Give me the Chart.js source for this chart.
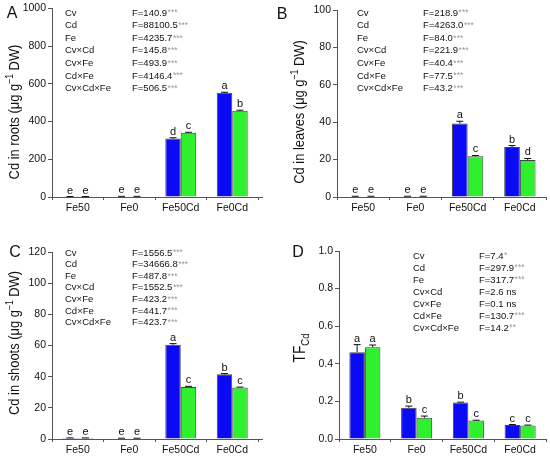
<!DOCTYPE html>
<html>
<head>
<meta charset="utf-8">
<script src="https://cdn.jsdelivr.net/npm/chart.js@4/dist/chart.umd.min.js"></script>
<style>
  body { margin: 0; background: #fff; }
  canvas { position: absolute; }
</style>
</head>
<body>
<canvas id="cA" width="275" height="228" style="left:0;top:0"></canvas>
<canvas id="cB" width="275" height="228" style="left:275px;top:0"></canvas>
<canvas id="cC" width="275" height="229" style="left:0;top:228px"></canvas>
<canvas id="cD" width="275" height="229" style="left:275px;top:228px"></canvas>
<script>
// categories and factors
const treatments = ['Fe50', 'Fe0', 'Fe50Cd', 'Fe0Cd'];
const factors = ['Cv', 'Cd', 'Fe', 'Cv×Cd', 'Cv×Fe', 'Cd×Fe', 'Cv×Cd×Fe'];

// A - roots
const rootsBlue = [1.5, 2.5, 310, 552];
const rootsGreen = [1.5, 2.5, 340, 457];
const rootsBlueErr = [1, 1, 4, 3];
const rootsGreenErr = [1, 1, 3, 3];
const rootsBlueLet = ['e', 'e', 'd', 'a'];
const rootsGreenLet = ['e', 'e', 'c', 'b'];
const rootsF = ['140.9', '88100.5', '4235.7', '145.8', '493.9', '4146.4', '506.5'];
const rootsSig = ['***', '***', '***', '***', '***', '***', '***'];
const rootsTicks = [0, 200, 400, 600, 800, 1000];

// B - leaves
const leavesBlue = [0.3, 0.3, 39.3, 26.7];
const leavesGreen = [0.3, 0.3, 21.8, 19.8];
const leavesBlueErr = [0.1, 0.1, 1.2, 0.8];
const leavesGreenErr = [0.1, 0.1, 0.4, 0.8];
const leavesBlueLet = ['e', 'e', 'a', 'b'];
const leavesGreenLet = ['e', 'e', 'c', 'd'];
const leavesF = ['218.9', '4263.0', '84.0', '221.9', '40.4', '77.5', '43.2'];
const leavesSig = ['***', '***', '***', '***', '***', '***', '***'];
const leavesTicks = [0, 20, 40, 60, 80, 100];

// C - shoots
const shootsBlue = [0.6, 0.4, 60.5, 41.5];
const shootsGreen = [0.6, 0.4, 33.4, 33.0];
const shootsBlueErr = [0.1, 0.1, 0.7, 0.5];
const shootsGreenErr = [0.1, 0.1, 0.4, 0.3];
const shootsBlueLet = ['e', 'e', 'a', 'b'];
const shootsGreenLet = ['e', 'e', 'c', 'c'];
const shootsF = ['1556.5', '34666.8', '487.8', '1552.5', '423.2', '441.7', '423.7'];
const shootsSig = ['***', '***', '***', '***', '***', '***', '***'];
const shootsTicks = [0, 20, 40, 60, 80, 100, 120];

// D - translocation factor
const tfBlue = [0.462, 0.166, 0.194, 0.075];
const tfGreen = [0.488, 0.113, 0.098, 0.072];
const tfBlueErr = [0.04, 0.009, 0.002, 0.002];
const tfGreenErr = [0.012, 0.009, 0.002, 0.002];
const tfBlueLet = ['a', 'b', 'b', 'c'];
const tfGreenLet = ['a', 'c', 'c', 'c'];
const tfF = ['7.4', '297.9', '317.7', '2.6', '0.1', '130.7', '14.2'];
const tfSig = ['*', '***', '***', 'ns', 'ns', '***', '**'];
const tfTicks = [0, 0.2, 0.4, 0.6, 0.8, 1.0];

const FONT = '"Liberation Sans", Arial, sans-serif';
const BLUE = '#0a0af5';
const GREEN = '#2ef02e';
const AXIS = '#555';

// dibuja barras de error, letras, tabla de F, titulo y letra del panel
const decor = {
  id: 'decor',
  afterDatasetsDraw(chart, args, o) {
    const ctx = chart.ctx;
    const ys = chart.scales.y;
    const area = chart.chartArea;
    ctx.save();
    // extension del eje x
    if (o.ext) {
      ctx.strokeStyle = AXIS;
      ctx.lineWidth = 1;
      ctx.beginPath();
      ctx.moveTo(area.right, area.bottom + 0.5);
      ctx.lineTo(area.right + o.ext, area.bottom + 0.5);
      ctx.stroke();
    }
    // barras de error y letras
    chart.data.datasets.forEach((ds, i) => {
      const meta = chart.getDatasetMeta(i);
      meta.data.forEach((bar, j) => {
        const top = ys.getPixelForValue(ds.data[j] + o.errs[i][j]);
        ctx.strokeStyle = '#111';
        ctx.lineWidth = 1;
        ctx.beginPath();
        ctx.moveTo(bar.x, bar.y);
        ctx.lineTo(bar.x, top);
        ctx.moveTo(bar.x - 3.5, top);
        ctx.lineTo(bar.x + 3.5, top);
        ctx.stroke();
        ctx.fillStyle = '#111';
        ctx.font = '11px ' + FONT;
        ctx.textAlign = 'center';
        ctx.textBaseline = 'alphabetic';
        ctx.fillText(o.letters[i][j], bar.x, top - 3);
      });
    });
    // tabla de estadisticos
    ctx.textBaseline = 'middle';
    ctx.textAlign = 'left';
    factors.forEach((f, k) => {
      const y = o.statY + k * o.statDy;
      ctx.font = '9.5px ' + FONT;
      ctx.fillStyle = '#111';
      ctx.fillText(f, o.labelX, y);
      const txt = 'F=' + o.F[k];
      ctx.fillText(txt, o.fX, y);
      const w = ctx.measureText(txt).width;
      if (o.sig[k] === 'ns') {
        ctx.fillText(' ns', o.fX + w, y);
      } else {
        ctx.fillStyle = '#999';
        ctx.font = '8.5px ' + FONT;
        ctx.fillText(o.sig[k], o.fX + w + 0.5, y);
      }
    });
    // letra del panel
    ctx.fillStyle = '#111';
    ctx.font = '16px ' + FONT;
    ctx.textAlign = 'center';
    ctx.fillText(o.panel, o.panelX, o.panelY);
    // titulo del eje y (rotado, algo comprimido como en el original)
    ctx.translate(o.titleX, o.titleY);
    ctx.rotate(-Math.PI / 2);
    ctx.scale(0.86, 1);
    let total = 0;
    o.title.forEach(p => {
      ctx.font = p.size + 'px ' + FONT;
      total += ctx.measureText(p.t).width;
    });
    let x = -total / 2;
    ctx.textAlign = 'left';
    ctx.textBaseline = 'middle';
    o.title.forEach(p => {
      ctx.font = p.size + 'px ' + FONT;
      ctx.fillText(p.t, x, p.dy || 0);
      x += ctx.measureText(p.t).width;
    });
    ctx.restore();
  }
};

function panel(id, blue, green, ticks, L, R, T, B, H, yLabel, dec) {
  const ctx = document.getElementById(id).getContext('2d');
  return new Chart(ctx, {
    type: 'bar',
    data: {
      labels: treatments,
      datasets: [
        { data: blue, backgroundColor: BLUE, borderColor: '#444', borderWidth: 1,
          categoryPercentage: 0.6, barPercentage: 1.0 },
        { data: green, backgroundColor: GREEN, borderColor: '#444', borderWidth: 1,
          categoryPercentage: 0.6, barPercentage: 1.0 }
      ]
    },
    options: {
      responsive: false,
      animation: false,
      layout: { padding: { left: 0, right: 275 - R, top: T, bottom: 0 } },
      plugins: { legend: { display: false }, tooltip: { enabled: false }, decor: dec },
      scales: {
        x: {
          grid: { drawOnChartArea: false, tickLength: 3, color: AXIS },
          border: { color: AXIS },
          ticks: { font: { family: FONT, size: 10.5 }, color: '#111', padding: 2, maxRotation: 0 },
          afterFit: s => { s.height = H - B; }
        },
        y: {
          min: ticks[0],
          max: ticks[ticks.length - 1],
          afterBuildTicks: s => { s.ticks = ticks.map(v => ({ value: v })); },
          grid: { drawOnChartArea: false, tickLength: 4, color: AXIS },
          border: { color: AXIS },
          ticks: { font: { family: FONT, size: 10.5 }, color: '#111', padding: 2,
                   callback: yLabel },
          afterFit: s => { s.width = L; }
        }
      }
    },
    plugins: [decor]
  });
}

const intLabel = v => String(v);
const decLabel = v => v.toFixed(1);
const sup = () => ({ t: '−1', size: 10, dy: -5 });

panel('cA', rootsBlue, rootsGreen, rootsTicks, 52, 258, 8, 197, 228, intLabel, {
  errs: [rootsBlueErr, rootsGreenErr], letters: [rootsBlueLet, rootsGreenLet],
  F: rootsF, sig: rootsSig, labelX: 65, fX: 132, statY: 13, statDy: 12.6, ext: 5,
  panel: 'A', panelX: 12, panelY: 14, titleX: 15, titleY: 112,
  title: [{ t: 'Cd in roots (μg g', size: 15 }, sup(), { t: ' DW)', size: 15 }]
});

panel('cB', leavesBlue, leavesGreen, leavesTicks, 62, 271, 10, 197, 228, intLabel, {
  errs: [leavesBlueErr, leavesGreenErr], letters: [leavesBlueLet, leavesGreenLet],
  F: leavesF, sig: leavesSig, labelX: 82, fX: 148, statY: 13, statDy: 12.6, ext: 0,
  panel: 'B', panelX: 7, panelY: 15, titleX: 25, titleY: 112,
  title: [{ t: 'Cd in leaves (μg g', size: 15 }, sup(), { t: ' DW)', size: 15 }]
});

panel('cC', shootsBlue, shootsGreen, shootsTicks, 52, 258, 24, 211, 229, intLabel, {
  errs: [shootsBlueErr, shootsGreenErr], letters: [shootsBlueLet, shootsGreenLet],
  F: shootsF, sig: shootsSig, labelX: 65, fX: 132, statY: 25, statDy: 11.6, ext: 5,
  panel: 'C', panelX: 15, panelY: 25, titleX: 15, titleY: 115,
  title: [{ t: 'Cd in shoots (μg g', size: 15 }, sup(), { t: ' DW)', size: 15 }]
});

panel('cD', tfBlue, tfGreen, tfTicks, 64, 271, 23, 211, 229, decLabel, {
  errs: [tfBlueErr, tfGreenErr], letters: [tfBlueLet, tfGreenLet],
  F: tfF, sig: tfSig, labelX: 138, fX: 204, statY: 28, statDy: 12, ext: 0,
  panel: 'D', panelX: 23, panelY: 25, titleX: 26, titleY: 120,
  title: [{ t: 'TF', size: 16 }, { t: 'Cd', size: 11, dy: 5 }]
});
</script>
</body>
</html>
